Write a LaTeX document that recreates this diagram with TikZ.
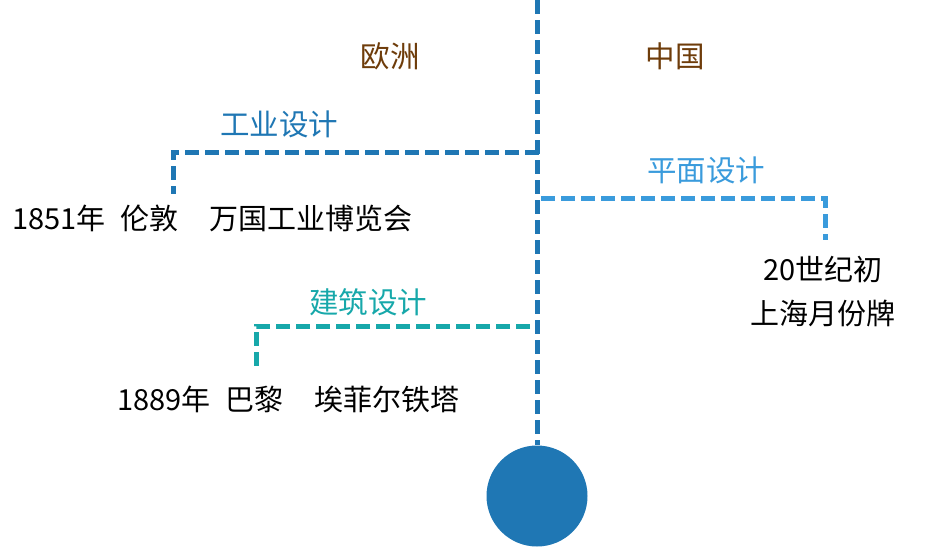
\documentclass[tikz,border=0pt]{standalone}
\usepackage{fontspec}
\setmainfont{Noto Sans CJK SC}
\definecolor{mainblue}{RGB}{31,119,180}
\definecolor{lightblue}{RGB}{58,155,220}
\definecolor{tealc}{RGB}{23,168,170}
\definecolor{brownc}{RGB}{110,60,10}
\begin{document}
\begin{tikzpicture}[x=1pt,y=-1pt,
  dline/.style={line width=5pt, dash pattern=on 14pt off 6pt},
  lbl/.style={font=\fontsize{29.5}{32}\selectfont, inner sep=0pt},
  txt/.style={font=\fontsize{29}{44}\selectfont, inner sep=0pt, text=black}]
\useasboundingbox (0,0) rectangle (945,547);
\node[circle, fill=mainblue, minimum size=101pt, inner sep=0pt] (c) at (537,496) {};
\coordinate (top) at (537,0);
\draw[dline, mainblue] (top) -- (c.north);
% 工业设计
\coordinate (i1) at (539,152);
\coordinate (i2) at (173,152);
\coordinate (i3) at (173,194);
\draw[dline, mainblue] (i1) -- (i2) -- (i3);
\node[lbl, text=mainblue] (il) at (279,124) {工业设计};
\node[txt, anchor=west] (it) at (12,218) {1851年\hspace{15pt}伦敦\hspace{31pt}万国工业博览会};
% 平面设计
\coordinate (p1) at (541,198);
\coordinate (p2) at (825,198);
\coordinate (p3) at (825,240);
\draw[dline, lightblue] (p1) -- (p2) -- (p3);
\node[lbl, text=lightblue] (pl) at (706,170) {平面设计};
\node[txt, align=center] (pt) at (823,292) {20世纪初\\上海月份牌};
% 建筑设计
\coordinate (a1) at (530,326);
\coordinate (a2) at (256,326);
\coordinate (a3) at (256,369);
\draw[dline, tealc] (a1) -- (a2) -- (a3);
\node[lbl, text=tealc] (al) at (368,302) {建筑设计};
\node[txt, anchor=west] (at) at (117,399) {1889年\hspace{15pt}巴黎\hspace{31pt}埃菲尔铁塔};
% headings
\node[lbl, text=brownc] (eu) at (390,56) {欧洲};
\node[lbl, text=brownc] (cn) at (675,56) {中国};
\end{tikzpicture}
\end{document}
